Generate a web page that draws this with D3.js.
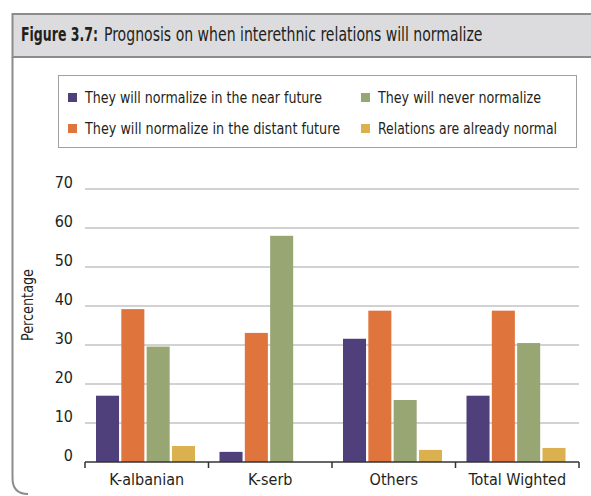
<!DOCTYPE html>
<html>
<head>
<meta charset="utf-8">
<script src="https://cdn.jsdelivr.net/npm/d3@7"></script>
<style>
  body { margin: 0; background: #fff; }
  text { font-family: "Liberation Sans Narrow", "DejaVu Sans Condensed", "Roboto", sans-serif; fill: #231f20; }
</style>
</head>
<body>
<div id="chart"></div>
<script>
var categories = ["K-albanian", "K-serb", "Others", "Total Wighted"];
var seriesNames = [
  "They will normalize in the near future",
  "They will normalize in the distant future",
  "They will never normalize",
  "Relations are already normal"
];
var nearFuture    = [17.0, 2.6, 31.6, 17.0];
var distantFuture = [39.2, 33.1, 38.8, 38.8];
var neverNormal   = [29.6, 58.0, 15.9, 30.5];
var alreadyNormal = [4.1, 0, 3.1, 3.6];
var yTicks = [0, 10, 20, 30, 40, 50, 60, 70];

var seriesValues = [nearFuture, distantFuture, neverNormal, alreadyNormal];
var colors = ["#4f3f7a", "#e0743d", "#98a674", "#dbb04e"];

var width = 591, height = 496;

var svg = d3.select("#chart")
  .append("svg")
  .attr("width", width)
  .attr("height", height);

/* frame + title band */
svg.append("rect")
  .attr("x", 12.5).attr("y", 14)
  .attr("width", 590).attr("height", 43)
  .attr("fill", "#dcdcde")
  .attr("stroke", "#8c8c8e")
  .attr("stroke-width", 2);

svg.append("path")
  .attr("d", "M12.5,57 L12.5,478 Q12.5,494 28,494")
  .attr("fill", "none")
  .attr("stroke", "#8c8c8e")
  .attr("stroke-width", 2);

// squeeze a text horizontally to a target width (condensed look)
function fitText(x, y, str, w, bold) {
  var t = svg.append("text")
    .attr("font-size", 19)
    .attr("font-weight", bold ? "bold" : "normal")
    .text(str);
  var natural = t.node().getComputedTextLength();
  t.attr("transform", `translate(${x}, ${y}) scale(${w / natural}, 1)`);
  return t;
}
fitText(21, 41, "Figure 3.7:", 77, true);
fitText(104, 41, "Prognosis on when interethnic relations will normalize", 379, false);

/* legend */
svg.append("rect")
  .attr("x", 58.5).attr("y", 75.5)
  .attr("width", 518).attr("height", 72)
  .attr("fill", "#fff")
  .attr("stroke", "#a0a0a2")
  .attr("stroke-width", 1);

var legendPos = [
  { x: 68, y: 98, w: 237 },
  { x: 68, y: 129, w: 255 },
  { x: 361, y: 98, w: 163 },
  { x: 361, y: 129, w: 179 }
];

var legend = svg.append("g")
  .selectAll("g")
  .data(seriesNames)
  .enter()
  .append("g")
  .attr("transform", (d, i) => `translate(${legendPos[i].x}, ${legendPos[i].y})`);

legend.append("rect")
  .attr("x", 0).attr("y", -5)
  .attr("width", 9).attr("height", 9)
  .attr("fill", (d, i) => colors[i]);

legend.append("text")
  .attr("x", 17).attr("y", 5)
  .attr("font-size", 16)
  .attr("textLength", (d, i) => legendPos[i].w)
  .attr("lengthAdjust", "spacingAndGlyphs")
  .text(d => d);

/* scales */
var plotLeft = 85, plotRight = 579;

var x0 = d3.scaleBand()
  .domain(categories)
  .range([plotLeft, plotRight])
  .padding(0);

var x1 = d3.scaleBand()
  .domain(d3.range(seriesNames.length))
  .range([11, 110])
  .paddingInner(0.09)
  .paddingOuter(0);

var yScale = d3.scaleLinear()
  .domain([0, 70])
  .range([462, 189]);

/* grid */
svg.append("g")
  .selectAll("line")
  .data(yTicks.filter(t => t > 0))
  .enter()
  .append("line")
  .attr("x1", plotLeft).attr("x2", plotRight)
  .attr("y1", d => yScale(d)).attr("y2", d => yScale(d))
  .attr("stroke", "#c3c3c6")
  .attr("stroke-width", 1.5);

/* y tick labels */
svg.append("g")
  .selectAll("text")
  .data(yTicks)
  .enter()
  .append("text")
  .attr("x", 73)
  .attr("y", d => yScale(d) - 1)
  .attr("text-anchor", "end")
  .attr("font-size", 16)
  .text(d => d);

svg.append("text")
  .attr("transform", "translate(33, 305) rotate(-90)")
  .attr("text-anchor", "middle")
  .attr("font-size", 16)
  .attr("textLength", 72)
  .attr("lengthAdjust", "spacingAndGlyphs")
  .text("Percentage");

/* bars */
var groups = svg.append("g")
  .selectAll("g")
  .data(categories)
  .enter()
  .append("g")
  .attr("transform", d => `translate(${x0(d)}, 0)`);

groups.selectAll("rect")
  .data((c, ci) => seriesValues.map((s, si) => ({ si: si, v: s[ci] })))
  .enter()
  .append("rect")
  .attr("x", d => x1(d.si))
  .attr("width", x1.bandwidth())
  .attr("y", d => yScale(d.v))
  .attr("height", d => yScale(0) - yScale(d.v))
  .attr("fill", d => colors[d.si]);

/* x axis */
var xAxis = svg.append("g")
  .attr("transform", `translate(0, ${yScale(0)})`);

xAxis.append("line")
  .attr("x1", plotLeft).attr("x2", plotRight)
  .attr("stroke", "#333")
  .attr("stroke-width", 1.5);

var boundaries = categories.map(c => x0(c)).concat([plotRight]);
xAxis.selectAll(".tick")
  .data(boundaries)
  .enter()
  .append("line")
  .attr("class", "tick")
  .attr("x1", d => d).attr("x2", d => d)
  .attr("y1", 0).attr("y2", 6)
  .attr("stroke", "#333")
  .attr("stroke-width", 1.5);

xAxis.selectAll(".lbl")
  .data(categories)
  .enter()
  .append("text")
  .attr("class", "lbl")
  .attr("x", d => x0(d) + x0.bandwidth() / 2)
  .attr("y", 23)
  .attr("text-anchor", "middle")
  .attr("font-size", 16)
  .text(d => d);
</script>
</body>
</html>
